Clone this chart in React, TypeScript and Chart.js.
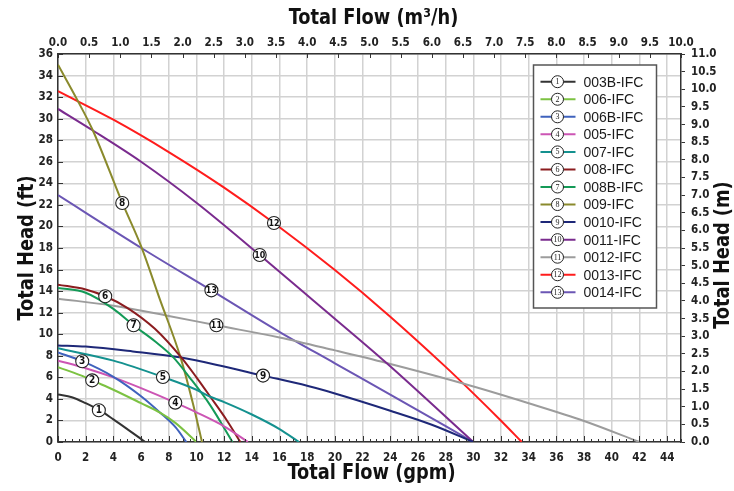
import React, { useEffect, useRef } from "react";
import { Chart, registerables } from "chart.js";
Chart.register(...registerables);

// ---- Data ----
const seriesNames = [
  "003B-IFC", "006-IFC", "006B-IFC", "005-IFC", "007-IFC", "008-IFC", "008B-IFC",
  "009-IFC", "0010-IFC", "0011-IFC", "0012-IFC", "0013-IFC", "0014-IFC",
];
const seriesColors = [
  "#333333", "#7cc242", "#3f62bd", "#cc55b4", "#14918f", "#8b1c1f", "#149a57",
  "#8a8a2c", "#1e2878", "#7a2b8e", "#9c9c9c", "#ff1c1c", "#6b56b4",
];

const gpm003B = [0, 1, 2, 3, 4, 5, 6.3];
const ft003B = [4.4, 4.15, 3.6, 2.95, 2.1, 1.2, 0];
const gpm006 = [0, 2, 2.47, 4, 6, 7.4, 8.5, 10.0];
const ft006 = [6.95, 6.0, 5.72, 4.85, 3.6, 2.7, 1.75, 0];
const gpm006B = [0, 1.75, 4, 6, 7.4, 8.5, 9.27];
const ft006B = [8.3, 7.5, 6.05, 4.25, 2.7, 1.35, 0];
const gpm005 = [0, 2, 4, 6, 8.47, 10, 12, 13.72];
const ft005 = [7.55, 6.85, 6.0, 5.0, 3.65, 2.75, 1.45, 0];
const gpm007 = [0, 4, 7.58, 10, 11, 12, 14, 16, 17.41];
const ft007 = [8.7, 7.55, 6.03, 4.85, 4.2, 3.7, 2.55, 1.2, 0];
const gpm008 = [0, 2, 3.41, 5, 7, 8.9, 10, 11, 12.2, 13.17];
const ft008 = [14.6, 14.15, 13.52, 12.45, 10.5, 7.85, 6.0, 4.2, 2.0, 0];
const gpm008B = [0, 2, 4, 5.46, 7, 8.3, 9.5, 11, 12.6];
const ft008B = [14.3, 13.85, 12.35, 10.83, 9.35, 7.9, 6.0, 3.4, 0];
const gpm009 = [0, 1.43, 2.52, 4.64, 6.02, 7.34, 8.85, 9.75, 10.4];
const ft009 = [35, 31.65, 28.9, 22.2, 18.1, 13.3, 7.85, 3.55, 0];
const gpm0010 = [0, 2, 5.4, 8.9, 12, 14.81, 17.6, 20, 24, 27, 30];
const ft0010 = [8.96, 8.85, 8.4, 7.83, 7.0, 6.16, 5.35, 4.5, 2.9, 1.6, 0];
const gpm0011 = [0, 2.52, 6, 10, 14.57, 18.42, 23.73, 30];
const ft0011 = [30.9, 28.9, 26.0, 22.2, 17.35, 13.15, 7.33, 0];
const gpm0012 = [0, 4, 8, 11.44, 16, 20, 23.73, 29.2, 34, 38, 42];
const ft0012 = [13.3, 12.65, 11.7, 10.83, 9.7, 8.5, 7.33, 5.45, 3.6, 1.95, 0];
const gpm0013 = [0, 4, 8, 12, 15.6, 20, 24, 28, 30, 32, 33.5];
const ft0013 = [32.55, 29.9, 26.9, 23.6, 20.32, 15.95, 11.63, 6.97, 4.51, 1.97, 0];
const gpm0014 = [0, 6.02, 11.08, 16.02, 20, 24, 30];
const ft0014 = [22.9, 18.0, 14.07, 10.2, 7.3, 4.4, 0];

const seriesGpm = [gpm003B, gpm006, gpm006B, gpm005, gpm007, gpm008, gpm008B, gpm009, gpm0010, gpm0011, gpm0012, gpm0013, gpm0014];
const seriesFt = [ft003B, ft006, ft006B, ft005, ft007, ft008, ft008B, ft009, ft0010, ft0011, ft0012, ft0013, ft0014];

// circled number markers placed on the curves (gpm, ft)
const markerGpm = [2.95, 2.47, 1.75, 8.47, 7.58, 3.41, 5.46, 4.64, 14.81, 14.57, 11.44, 15.6, 11.08];
const markerFt = [2.94, 5.72, 7.49, 3.65, 6.03, 13.52, 10.83, 22.17, 6.16, 17.35, 10.83, 20.32, 14.07];

const titleTop = "Total Flow (m\u00B3/h)";
const titleBottom = "Total Flow (gpm)";
const titleLeft = "Total Head (ft)";
const titleRight = "Total Head (m)";

const NARROW = "'Liberation Sans Narrow', 'DejaVu Sans Condensed', 'Roboto', sans-serif";
const tickFont = { family: NARROW, size: 11.5, weight: "bold" as const };

function circleMark(ctx: CanvasRenderingContext2D, x: number, y: number, r: number, n: number, fs: number) {
  ctx.beginPath();
  ctx.arc(x, y, r, 0, Math.PI * 2);
  ctx.fillStyle = "#ffffff";
  ctx.fill();
  ctx.lineWidth = 1.1;
  ctx.strokeStyle = "#222";
  ctx.stroke();
  ctx.fillStyle = "#111";
  ctx.textAlign = "center";
  ctx.textBaseline = "middle";
  const s = String(n);
  ctx.font = `bold ${s.length > 1 ? fs - 1 : fs}px ${NARROW}`;
  ctx.fillText(s, x, y + 0.5, r * 1.7);
}

function condensedText(ctx: CanvasRenderingContext2D, text: string, x: number, y: number, rot: number, sx: number) {
  ctx.save();
  ctx.translate(x, y);
  ctx.rotate(rot);
  ctx.scale(sx, 1);
  ctx.fillText(text, 0, 0);
  ctx.restore();
}

const decorPlugin = {
  id: "decor",
  afterDraw(chart: any) {
    const ctx: CanvasRenderingContext2D = chart.ctx;
    const { left, right, top, bottom } = chart.chartArea;
    const xs = chart.scales.x, x2 = chart.scales.x2, ys = chart.scales.y;
    ctx.save();
    // tick marks
    ctx.strokeStyle = "#333";
    ctx.lineWidth = 1;
    for (let v = 0; v <= 45.001; v += 0.5) {
      const px = Math.round(xs.getPixelForValue(v)) + 0.5;
      const len = Math.abs(v % 2) < 1e-6 ? 6 : 3;
      ctx.beginPath();
      ctx.moveTo(px, bottom);
      ctx.lineTo(px, bottom - len);
      ctx.stroke();
    }
    for (let v = 0; v <= 10.001; v += 0.5) {
      const px = Math.round(x2.getPixelForValue(v)) + 0.5;
      ctx.beginPath();
      ctx.moveTo(px, top);
      ctx.lineTo(px, top + 4);
      ctx.stroke();
    }
    for (let v = 0; v <= 36.001; v += 2) {
      const py = Math.round(ys.getPixelForValue(v)) + 0.5;
      ctx.beginPath();
      ctx.moveTo(left, py);
      ctx.lineTo(left + 5, py);
      ctx.stroke();
    }

    // circled curve markers
    for (let i = 0; i < markerGpm.length; i++) {
      const px = xs.getPixelForValue(markerGpm[i]);
      const py = ys.getPixelForValue(markerFt[i]);
      circleMark(ctx, px, py, 6.5, i + 1, 10);
    }

    // legend
    const bx = right - 147.5, by = top + 11, bw = 123, bh = 243;
    ctx.fillStyle = "#ffffff";
    ctx.fillRect(bx, by, bw, bh);
    ctx.strokeStyle = "#555";
    ctx.lineWidth = 1.5;
    ctx.strokeRect(bx, by, bw, bh);
    chart.data.datasets.forEach((ds: any, i: number) => {
      const cy = by + 16.7 + i * 17.55;
      ctx.strokeStyle = ds.borderColor;
      ctx.lineWidth = 2;
      ctx.beginPath();
      ctx.moveTo(bx + 7, cy);
      ctx.lineTo(bx + 42, cy);
      ctx.stroke();
      ctx.beginPath();
      ctx.arc(bx + 24, cy, 6, 0, Math.PI * 2);
      ctx.fillStyle = "#fff";
      ctx.fill();
      ctx.lineWidth = 1;
      ctx.strokeStyle = "#222";
      ctx.stroke();
      ctx.fillStyle = "#222";
      ctx.font = `8px 'Liberation Serif', serif`;
      ctx.textAlign = "center";
      ctx.textBaseline = "middle";
      ctx.fillText(String(i + 1), bx + 24, cy + 0.5, 10);
      ctx.font = `14px 'Liberation Sans', Arial, sans-serif`;
      ctx.textAlign = "left";
      ctx.fillStyle = "#1a1a1a";
      ctx.fillText(ds.label, bx + 50, cy + 1);
    });

    // axis titles
    ctx.fillStyle = "#111";
    ctx.font = `bold 22px ${NARROW}`;
    ctx.textAlign = "center";
    ctx.textBaseline = "middle";
    const cx = (left + right) / 2;
    condensedText(ctx, titleTop, cx + 4, 18, 0, 0.9);
    condensedText(ctx, titleBottom, cx + 2, 473, 0, 0.9);
    condensedText(ctx, titleLeft, 27, (top + bottom) / 2, -Math.PI / 2, 0.9);
    condensedText(ctx, titleRight, 723, (top + bottom) / 2 + 7, -Math.PI / 2, 0.9);
    ctx.restore();
  },
};

export default function App() {
  const ref = useRef<HTMLCanvasElement>(null);
  useEffect(() => {
    if (!ref.current) return;
    const datasets = seriesNames.map((name, i) => ({
      label: name,
      data: seriesGpm[i].map((g, j) => ({ x: g, y: seriesFt[i][j] })),
      borderColor: seriesColors[i],
      backgroundColor: seriesColors[i],
      borderWidth: 2,
      pointRadius: 0,
      showLine: true,
      fill: false,
      cubicInterpolationMode: "monotone" as const,
      xAxisID: "x",
      yAxisID: "y",
    }));
    const chart = new Chart(ref.current, {
      type: "scatter",
      data: { datasets },
      options: {
        animation: false,
        responsive: false,
        layout: { padding: 0 },
        plugins: { legend: { display: false }, tooltip: { enabled: false } },
        scales: {
          x: {
            type: "linear", position: "bottom", min: 0, max: 45,
            ticks: { stepSize: 2, includeBounds: false, font: tickFont, color: "#222", padding: 9, maxRotation: 0, autoSkip: false },
            grid: { color: "#d2d2d2", lineWidth: 1.5, drawTicks: false },
            border: { color: "#333", width: 1.5 },
            afterFit: (s: any) => { s.height = 49; },
          },
          x2: {
            type: "linear", position: "top", min: 0, max: 10,
            ticks: { stepSize: 0.5, font: tickFont, color: "#222", padding: 4, maxRotation: 0, autoSkip: false, callback: (v: any) => Number(v).toFixed(1) },
            grid: { display: false, drawTicks: false },
            border: { color: "#333", width: 1.5 },
            afterFit: (s: any) => { s.height = 54; },
          },
          y: {
            type: "linear", position: "left", min: 0, max: 36,
            ticks: { stepSize: 2, font: tickFont, color: "#222", padding: 5, autoSkip: false },
            grid: { color: "#d2d2d2", lineWidth: 1.5, drawTicks: false },
            border: { color: "#333", width: 1.5 },
            afterFit: (s: any) => { s.width = 58; },
          },
          y2: {
            type: "linear", position: "right", min: 0, max: 11,
            ticks: { stepSize: 0.5, font: tickFont, color: "#222", padding: 6, autoSkip: false, callback: (v: any) => Number(v).toFixed(1) },
            grid: { drawOnChartArea: false, drawTicks: true, tickLength: 4, tickColor: "#333" },
            border: { color: "#333", width: 1.5 },
            afterFit: (s: any) => { s.width = 53; },
          },
        },
      },
      plugins: [decorPlugin],
    });
    return () => chart.destroy();
  }, []);
  return (
    <div style={{ position: "absolute", left: 0, top: 0, width: 734, height: 491, background: "#fff" }}>
      <canvas ref={ref} width={734} height={491} style={{ display: "block" }} />
    </div>
  );
}
